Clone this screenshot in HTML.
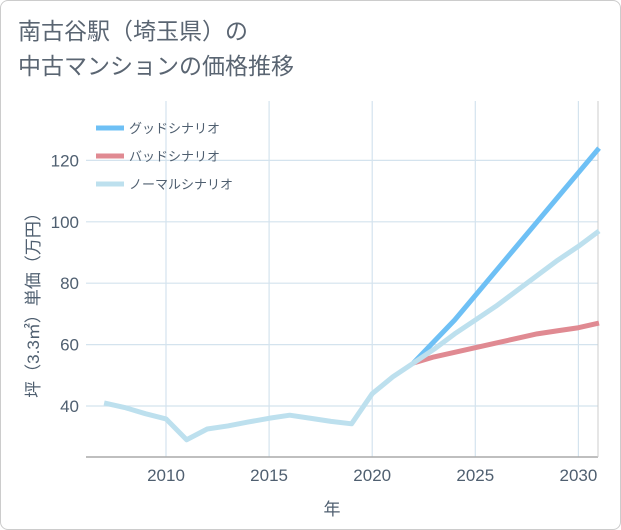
<!DOCTYPE html>
<html><head><meta charset="utf-8">
<style>
body{margin:0;background:#fff;}
#wrap{position:relative;width:619px;height:528px;border:1px solid #ccc;border-radius:8px;background:#fff;overflow:hidden;font-family:"Liberation Sans","Noto Sans CJK JP",sans-serif;}
#title{position:absolute;left:17px;top:13px;font-size:23px;line-height:35px;color:#5a6572;}
</style></head><body>
<div id="wrap">
<div id="title">南古谷駅（埼玉県）の<br>中古マンションの価格推移</div>
<svg id="chart" width="621" height="530" style="position:absolute;left:0;top:0"></svg>
</div>
<script>
const years=[2007,2008,2009,2010,2011,2012,2013,2014,2015,2016,2017,2018,2019,2020,2021,2022];
const history=[41,39.5,37.5,35.8,29,32.5,33.5,34.8,36,37,36,35,34.2,44,49.5,54];
const futureYears=[2022,2023,2024,2025,2026,2027,2028,2029,2030,2031];
const goodVals=[54,61,68,76,84,92,100,108,116,124];
const badVals=[54,56,57.5,59,60.5,62,63.5,64.5,65.5,67];
const normalVals=[54,58.5,63.5,68,72.5,77.5,82.5,87.5,92,97];
const xTicks=[2010,2015,2020,2025,2030];
const yTicks=[40,60,80,100,120];
const L=85,R=597,T=100,B=456;
const x=v=>165+(v-2010)*20.62;
const y=v=>405-(v-40)*3.07;
const svg=document.getElementById('chart');
const NS='http://www.w3.org/2000/svg';
const TXT='#4f5f70';
function mk(t,a){const e=document.createElementNS(NS,t);for(const k in a)e.setAttribute(k,a[k]);svg.appendChild(e);return e;}
xTicks.forEach(t=>{const l=mk('line',{x1:x(t),x2:x(t),y1:T,y2:B,stroke:'#d4e3ee','stroke-width':1.2});


const tx=mk('text',{x:x(t),y:480,'text-anchor':'middle','font-size':17,fill:TXT});tx.textContent=t;

});
yTicks.forEach(t=>{const l=mk('line',{x1:L,x2:R,y1:y(t),y2:y(t),stroke:'#d4e3ee','stroke-width':1.2});


const tx=mk('text',{x:78,y:y(t)+6,'text-anchor':'end','font-size':17,fill:TXT});tx.textContent=t;

});
const ax=mk('line',{x1:L,x2:R,y1:B,y2:B,stroke:'#aaa','stroke-width':1.5});


const ax2=mk('line',{x1:R,x2:R,y1:T,y2:B,stroke:'#ccc','stroke-width':1});


function line(xs,vs,c,n){const p=mk('polyline',{points:xs.map((t,i)=>x(t)+','+y(vs[i])).join(' '),fill:'none',stroke:c,'stroke-width':5,'stroke-linejoin':'round'});

}
line(futureYears,goodVals,'#6ec0f5','good-scenario-line');
line(futureYears,badVals,'#e08a92','bad-scenario-line');
line(futureYears,normalVals,'#bde0ee','normal-scenario-line');
line(years,history,'#bde0ee','history-line');
const leg=[['グッドシナリオ','#6ec0f5',127],['バッドシナリオ','#e08a92',155],['ノーマルシナリオ','#bde0ee',183]];
leg.forEach(([t,c,yy])=>{const l=mk('line',{x1:95,x2:123,y1:yy,y2:yy,stroke:c,'stroke-width':5});


const tx=mk('text',{x:128,y:yy+5,'font-size':13,fill:TXT});tx.textContent=t;

});
const xt=mk('text',{x:331,y:514,'text-anchor':'middle','font-size':17,fill:TXT});xt.textContent='年';


const yt=mk('text',{x:0,y:0,'text-anchor':'middle','font-size':17,fill:TXT,transform:'translate(38,300) rotate(-90)'});yt.textContent='坪（3.3㎡）単価（万円）';


</script>
</body></html>
